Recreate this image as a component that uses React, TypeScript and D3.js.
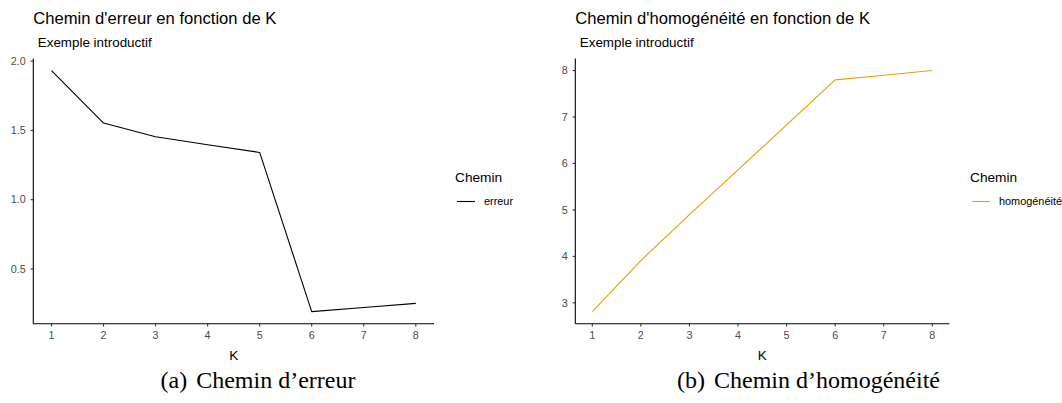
import React, { useEffect } from 'react';
import * as d3 from 'd3';

// K values shared by both panels
const kValues = [1, 2, 3, 4, 5, 6, 7, 8];
const xTickLabels = ['1', '2', '3', '4', '5', '6', '7', '8'];

// error path (panel a)
const erreurValues = [1.932, 1.553, 1.454, 1.396, 1.341, 0.192, 0.222, 0.252];
const erreurTicks = [0.5, 1.0, 1.5, 2.0];
const erreurTickLabels = ['0.5', '1.0', '1.5', '2.0'];

// homogeneity path (panel b)
const homogeneiteValues = [2.81, 3.91, 4.9, 5.86, 6.83, 7.8, 7.9, 8.0];
const homogeneiteTicks = [3, 4, 5, 6, 7, 8];
const homogeneiteTickLabels = ['3', '4', '5', '6', '7', '8'];

const SANS = '"Liberation Sans", Arial, Helvetica, sans-serif';
const SERIF = '"Liberation Serif", "Times New Roman", serif';

interface PanelProps {
  left: number;
  right: number;
  title: string;
  values: number[];
  color: string;
  yTicks: number[];
  yTickLabels: string[];
  legendX: number;
  legendLabel: string;
  captionTag: string;
  captionText: string;
  captionX: number;
}

function Panel(p: PanelProps) {
  const top = 58.5;
  const bottom = 323.7;

  // ggplot style 5% expansion of both axes
  const [xMin, xMax] = d3.extent(kValues) as [number, number];
  const xPad = (xMax - xMin) * 0.05;
  const x = d3.scaleLinear().domain([xMin - xPad, xMax + xPad]).range([p.left, p.right]);

  const [yMin, yMax] = d3.extent(p.values) as [number, number];
  const yPad = (yMax - yMin) * 0.05;
  const y = d3.scaleLinear().domain([yMin - yPad, yMax + yPad]).range([bottom, top]);

  const line = d3.line<number>()
    .x((_, i) => x(kValues[i]))
    .y(d => y(d));

  const mid = (p.left + p.right) / 2;

  return (
    <g>
      <text x={p.left} y={24} fontFamily={SANS} fontSize={16.6} fill="#000">{p.title}</text>
      <text x={p.left + 4.5} y={47.3} fontFamily={SANS} fontSize={13.4} fill="#000">Exemple introductif</text>

      <path d={line(p.values) || ''} fill="none" stroke={p.color} strokeWidth={1.1} strokeLinejoin="round" />

      {/* y axis */}
      <line x1={p.left} x2={p.left} y1={top} y2={bottom} stroke="#000" strokeWidth={1.1} />
      {p.yTicks.map((t, i) => (
        <g key={t}>
          <line x1={p.left - 2.7} x2={p.left} y1={y(t)} y2={y(t)} stroke="#333" strokeWidth={1.1} />
          <text x={p.left - 7.5} y={y(t) + 3.8} textAnchor="end" fontFamily={SANS} fontSize={10.8} fill="#4d4d4d">
            {p.yTickLabels[i]}
          </text>
        </g>
      ))}

      {/* x axis */}
      <line x1={p.left} x2={p.right} y1={bottom} y2={bottom} stroke="#000" strokeWidth={1.1} />
      {kValues.map((k, i) => (
        <g key={k}>
          <line x1={x(k)} x2={x(k)} y1={bottom} y2={bottom + 2.7} stroke="#333" strokeWidth={1.1} />
          <text x={x(k)} y={338.5} textAnchor="middle" fontFamily={SANS} fontSize={10.8} fill="#4d4d4d">
            {xTickLabels[i]}
          </text>
        </g>
      ))}
      <text x={mid} y={360} textAnchor="middle" fontFamily={SANS} fontSize={13.5} fill="#000">K</text>

      {/* legend */}
      <text x={p.legendX} y={182.3} fontFamily={SANS} fontSize={13.7} fill="#000">Chemin</text>
      <line x1={p.legendX + 2} x2={p.legendX + 20} y1={201.5} y2={201.5} stroke={p.color} strokeWidth={1.1} />
      <text x={p.legendX + 29} y={205.3} fontFamily={SANS} fontSize={10.9} fill="#000">{p.legendLabel}</text>

      {/* subfigure caption */}
      <text x={p.captionX} y={388} textAnchor="middle" fontFamily={SERIF} fontSize={24} fill="#000">
        {p.captionTag}
        <tspan dx={9}>{p.captionText}</tspan>
      </text>
    </g>
  );
}

export default function App() {
  useEffect(() => {
    document.body.style.margin = '0';
  }, []);

  return (
    <svg width={1062} height={403} style={{ display: 'block', background: '#fff' }}>
      <rect width={1062} height={403} fill="#fff" />
      <Panel
        left={33.3}
        right={434}
        title="Chemin d'erreur en fonction de K"
        values={erreurValues}
        color="#000000"
        yTicks={erreurTicks}
        yTickLabels={erreurTickLabels}
        legendX={455}
        legendLabel="erreur"
        captionTag="(a)"
        captionText="Chemin d’erreur"
        captionX={258}
      />
      <Panel
        left={575.3}
        right={949.3}
        title="Chemin d'homogénéité en fonction de K"
        values={homogeneiteValues}
        color="#E69F00"
        yTicks={homogeneiteTicks}
        yTickLabels={homogeneiteTickLabels}
        legendX={970}
        legendLabel="homogénéité"
        captionTag="(b)"
        captionText="Chemin d’homogénéité"
        captionX={808.5}
      />
    </svg>
  );
}
